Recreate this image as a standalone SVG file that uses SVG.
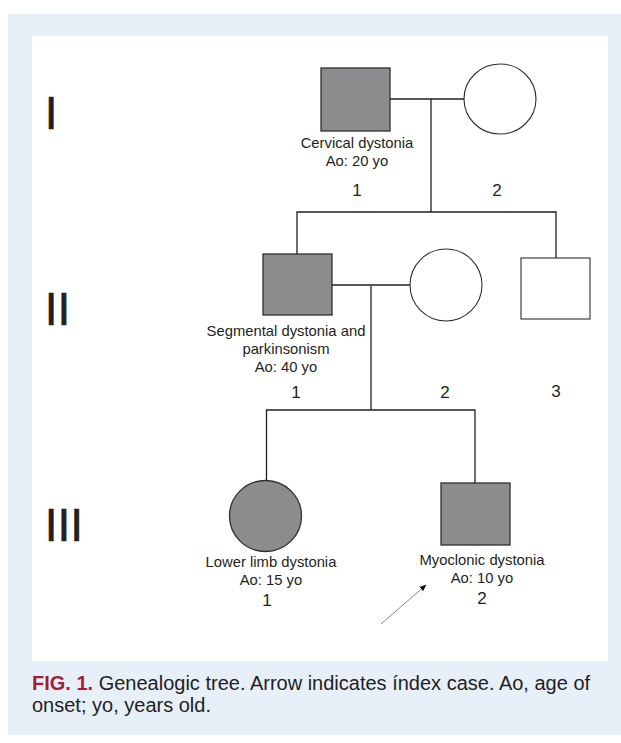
<svg xmlns="http://www.w3.org/2000/svg" width="621" height="743" viewBox="0 0 621 743">
<style>
.lbl{font-family:"Liberation Sans",Arial,sans-serif;font-size:14.8px;fill:#231f20;text-anchor:middle}
.num{font-family:"Liberation Sans",Arial,sans-serif;font-size:17px;fill:#231f20;text-anchor:middle}
.gen{font-family:"Liberation Sans",Arial,sans-serif;font-size:46px;fill:#231f20;stroke:#231f20;stroke-width:0.6}
.aff{fill:#8b8c8e;stroke:#2e2e2e;stroke-width:1.3}
.un{fill:#ffffff;stroke:#2e2e2e;stroke-width:1.1}
.ln{stroke:#231f20;stroke-width:1.3;fill:none}
.cap{font-family:"Liberation Sans",Arial,sans-serif;font-size:20px;fill:#231f20}
</style>
<defs>
<marker id="ah" viewBox="0 0 10 10" refX="9" refY="5" markerWidth="7" markerHeight="7" orient="auto" markerUnits="userSpaceOnUse">
<path d="M0,1 L10,5 L0,9 Z" fill="#111"/>
</marker>
</defs>
<rect x="8" y="14" width="613" height="721" fill="#e7f0f9"/>
<rect x="32" y="36" width="576" height="625" fill="#ffffff"/>

<g id="generations">
<text class="gen" x="44.7" y="129">I</text>
<text class="gen" x="44.7" y="325">II</text>
<text class="gen" x="44.7" y="541">III</text>
</g>

<g id="connectors">
<line class="ln" x1="390" y1="99" x2="464" y2="99"/>
<line class="ln" x1="431" y1="99" x2="431" y2="212"/>
<polyline class="ln" points="297,254 297,212 556,212 556,258"/>
<line class="ln" x1="332" y1="285" x2="410" y2="285"/>
<line class="ln" x1="371" y1="286" x2="371" y2="410"/>
<polyline class="ln" points="266.5,481 266.5,410 475,410 475,483"/>
<line x1="381" y1="624" x2="426" y2="585" stroke="#7a7a7a" stroke-width="0.9" marker-end="url(#ah)"/>
</g>

<g id="I-1">
<rect class="aff" x="321" y="68" width="69" height="63"/>
<text class="lbl" x="357" y="148">Cervical dystonia</text>
<text class="lbl" x="357" y="166">Ao: 20 yo</text>
<text class="num" x="357" y="196">1</text>
</g>

<g id="I-2">
<ellipse class="un" cx="500" cy="99" rx="36" ry="35"/>
<text class="num" x="497" y="196">2</text>
</g>

<g id="II-1">
<rect class="aff" x="263" y="254" width="69" height="61"/>
<text class="lbl" x="286" y="336">Segmental dystonia and</text>
<text class="lbl" x="286" y="354">parkinsonism</text>
<text class="lbl" x="286" y="372">Ao: 40 yo</text>
<text class="num" x="296" y="398">1</text>
</g>

<g id="II-2">
<ellipse class="un" cx="446" cy="285" rx="36" ry="36"/>
<text class="num" x="445" y="398">2</text>
</g>

<g id="II-3">
<rect class="un" x="521" y="258" width="69" height="61"/>
<text class="num" x="556" y="397">3</text>
</g>

<g id="III-1">
<ellipse class="aff" cx="265.5" cy="516" rx="36" ry="35.5"/>
<text class="lbl" x="271" y="567">Lower limb dystonia</text>
<text class="lbl" x="271" y="585">Ao: 15 yo</text>
<text class="num" x="267" y="606">1</text>
</g>

<g id="III-2">
<rect class="aff" x="441" y="483" width="69" height="62"/>
<text class="lbl" x="482" y="565">Myoclonic dystonia</text>
<text class="lbl" x="482" y="583">Ao: 10 yo</text>
<text class="num" x="482" y="604">2</text>
</g>

<g id="caption">
<text class="cap" x="32" y="690"><tspan fill="#a51d34" font-weight="bold">FIG. 1.</tspan> Genealogic tree. Arrow indicates índex case. Ao, age of</text>
<text class="cap" x="32" y="712">onset; yo, years old.</text>
</g>
</svg>
